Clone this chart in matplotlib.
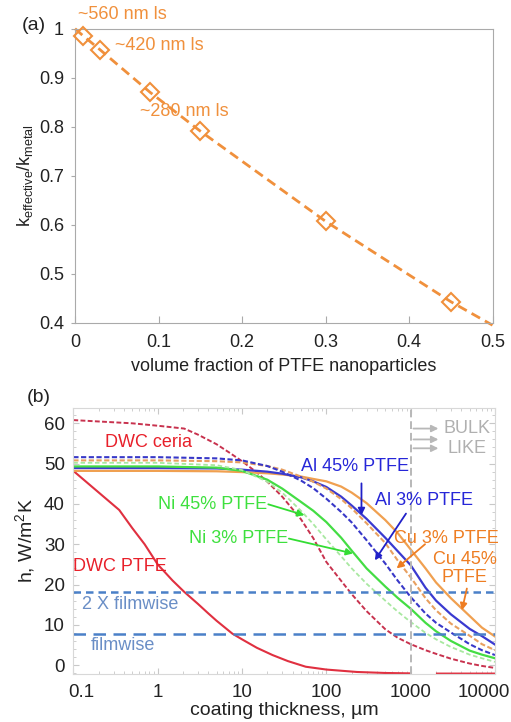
import numpy as np
import matplotlib.pyplot as plt
from matplotlib.ticker import MultipleLocator, FixedLocator, NullFormatter
from matplotlib.transforms import ScaledTranslation

plt.rcParams['font.family'] = ['Liberation Sans', 'DejaVu Sans']
plt.rcParams['mathtext.default'] = 'regular'

# (a) effective conductivity vs PTFE volume fraction
frac = [0.01, 0.03, 0.09, 0.15, 0.30, 0.45]
k_ratio = [0.985, 0.957, 0.870, 0.791, 0.607, 0.443]
fit_x = [0.0, 0.01, 0.03, 0.09, 0.15, 0.30, 0.45, 0.50]
fit_y = [1.0, 0.985, 0.957, 0.870, 0.791, 0.607, 0.443, 0.395]

# (b) heat transfer coefficient vs coating thickness (um)
t = [0.1, 1, 5, 10, 20, 30, 50, 70, 100, 150, 200, 300, 500, 700,
     1000, 1500, 2000, 3000, 5000, 7000, 10000]
cu45_h = [48.2, 48.2, 48.1, 47.9, 47.6, 47.3, 46.8, 46.2, 45.6, 44.3, 42.8, 40.2, 36.0, 32.8,
          28.7, 24.0, 20.5, 16.6, 12.2, 9.3, 7.1]
al45_h = [48.9, 48.9, 48.8, 48.5, 48.0, 47.5, 46.6, 45.6, 44.2, 41.8, 39.6, 36.3, 31.6, 28.3,
          24.8, 19.2, 16.0, 12.6, 9.0, 7.2, 5.1]
cu3_h = [50.8, 50.8, 50.6, 50.3, 49.4, 48.5, 46.8, 45.5, 43.8, 41.2, 38.9, 35.2, 30.3, 26.0,
         21.8, 16.6, 13.6, 10.3, 7.3, 5.2, 3.7]
al3_h = [51.6, 51.6, 51.3, 50.8, 49.4, 48.0, 45.8, 43.9, 41.3, 38.0, 35.4, 31.0, 25.2, 21.0,
         16.9, 12.8, 10.5, 8.1, 5.2, 3.7, 2.5]
ni3_h = [49.3, 49.3, 49.0, 48.2, 46.0, 43.8, 40.5, 38.3, 35.5, 31.6, 28.4, 24.0, 19.5, 16.7,
         14.0, 10.5, 8.4, 6.0, 3.6, 2.6, 1.7]
ni45_h = [50.2, 50.2, 49.6, 48.4, 45.5, 42.8, 38.3, 35.0, 31.2, 27.0, 24.0, 20.2, 16.0, 13.3,
          10.7, 8.0, 6.4, 4.5, 2.6, 1.7, 0.8]

ceria_x = [0.1, 0.5, 1, 2.06, 3, 5, 7, 10, 15, 20, 30, 50, 70, 100, 150, 200, 300, 500, 700,
           1000, 1500, 2000, 3000, 5000, 7000, 10000]
ceria_h = [60.8, 60.0, 59.4, 58.7, 57.2, 54.8, 52.8, 50.6, 47.8, 45.5, 41.8, 36.2, 31.5, 25.6,
           20.9, 17.6, 13.4, 8.9, 6.8, 5.2, 3.7, 2.8, 1.6, 0.4, -0.2, -0.7]
ptfe_x = [0.1, 0.35, 0.5, 0.7, 1, 1.5, 2.06, 3, 4, 5, 7.7, 10, 15, 23, 35, 57, 100, 230, 500,
          1000, 1500, 2050, 10000]
ptfe_h = [48.2, 38.5, 34.0, 30.0, 25.0, 21.0, 18.2, 15.2, 12.8, 11.0, 7.8, 6.4, 4.3, 2.5, 1.0,
          -0.4, -1.1, -1.7, -1.95, -2.05, np.nan, -2.1, -2.1]

filmwise = 7.8
filmwise2x = 18.2
bulk_arrow_h = [58.7, 56.0, 53.8]

orange = '#f0903c'
red = '#e8202a'
blue_txt = '#2626d8'
green_txt = '#3ee03e'
film_c = '#4a80c8'
grey = '#b8b8b8'

fig = plt.figure(figsize=(5.11, 7.22), dpi=100)

# ---------------- panel (a)
ax1 = fig.add_axes([0.1468, 0.553, 0.817, 0.4073])
ax1.plot(fit_x, fit_y, '--', color=orange, lw=2, dashes=(3.5, 2), clip_on=False, zorder=2)
ax1.plot(frac, k_ratio, 'D', ms=9, mfc='none', mec=orange, mew=1.5, clip_on=False, zorder=3)
ax1.set_xlim(0, 0.5)
ax1.set_ylim(0.4, 1.0)
ax1.xaxis.set_major_locator(MultipleLocator(0.1))
ax1.yaxis.set_major_locator(MultipleLocator(0.1))
ax1.xaxis.set_major_formatter(lambda v, p: '%g' % round(v, 2))
ax1.yaxis.set_major_formatter(lambda v, p: '%g' % round(v, 2))
for s in ax1.spines.values():
    s.set_color('#aaaaaa')
ax1.tick_params(axis='x', direction='in', length=5, color='#aaaaaa', labelsize=13, pad=8, labelcolor='#222222')
ax1.tick_params(axis='y', direction='out', length=3, color='#aaaaaa', labelsize=13, pad=5, labelcolor='#222222')
ax1.set_xlabel('volume fraction of PTFE nanoparticles', fontsize=13, labelpad=5, color='#222222')
ax1.set_ylabel('k$_{effective}$/k$_{metal}$', fontsize=13, labelpad=3, color='#222222')
ax1.text(0.0036, 1.028, '~560 nm ls', color=orange, fontsize=13, ha='left', va='center')
ax1.text(0.048, 0.965, '~420 nm ls', color=orange, fontsize=13, ha='left', va='center')
ax1.text(0.078, 0.832, '~280 nm ls', color=orange, fontsize=13, ha='left', va='center')
fig.text(0.043, 0.965, '(a)', fontsize=14, ha='left', va='center', color='#222222')

# ---------------- panel (b)
ax2 = fig.add_axes([0.1435, 0.0665, 0.8252, 0.3684])
ax2.set_xscale('log')
ax2.plot(ceria_x, ceria_h, '--', color='#c8324e', lw=1.4, dashes=(2.5, 1.2))
ax2.plot(ptfe_x, ptfe_h, '-', color='#e03040', lw=1.5)
ax2.plot(t, cu45_h, '-', color='#f0a050', lw=1.6)
ax2.plot(t, al45_h, '-', color='#3a3ad0', lw=1.6)
ax2.plot(t, cu3_h, '--', color='#e8a060', lw=1.5, dashes=(2.5, 1.2))
ax2.plot(t, al3_h, '--', color='#3838c8', lw=1.5, dashes=(2.5, 1.2))
ax2.plot(t, ni3_h, '-', color='#44dd44', lw=1.6)
ax2.plot(t, ni45_h, '--', color='#a8e8a0', lw=1.3, dashes=(2.5, 1.5))
ax2.axhline(filmwise2x, color=film_c, lw=1.8, ls=(0, (3, 2)))
ax2.axhline(filmwise, color=film_c, lw=1.8, ls=(0, (5, 3)))
ax2.axvline(1000, color=grey, lw=1.4, ls=(0, (4, 2)))

for h in bulk_arrow_h:
    ax2.annotate('', xy=(2300, h), xytext=(1000, h),
                 arrowprops=dict(arrowstyle='-|>', color=grey, lw=1.3, mutation_scale=10))
ax2.text(4700, 58.7, 'BULK', color='#b0b0b0', fontsize=13, ha='center', va='center')
ax2.text(4700, 53.8, 'LIKE', color='#b0b0b0', fontsize=13, ha='center', va='center')

ax2.text(0.236, 55.3, 'DWC ceria', color=red, fontsize=13, ha='left', va='center')
ax2.text(0.1, 24.4, 'DWC PTFE', color=red, fontsize=13, ha='left', va='center')
ax2.text(0.125, 15.0, '2 X filmwise', color='#6a8ec6', fontsize=13, ha='left', va='center')
ax2.text(0.16, 4.8, 'filmwise', color='#6a8ec6', fontsize=13, ha='left', va='center')

ax2.text(965, 49.2, 'Al 45% PTFE', color=blue_txt, fontsize=13, ha='right', va='center')
ax2.text(1440, 40.8, 'Al 3% PTFE', color=blue_txt, fontsize=13, ha='center', va='center')
ax2.text(20, 39.9, 'Ni 45% PTFE', color=green_txt, fontsize=13, ha='right', va='center')
ax2.text(35, 31.4, 'Ni 3% PTFE', color=green_txt, fontsize=13, ha='right', va='center')
ax2.text(2630, 31.4, 'Cu 3% PTFE', color='#ee7d22', fontsize=13, ha='center', va='center')
ax2.text(4400, 23.9, 'Cu 45%\nPTFE', color='#ee7d22', fontsize=13, ha='center', va='center',
         linespacing=1.1)

arrows = [
    ((55, 37.2), (20.5, 39.9), '#33dd33'),
    ((207, 27.7), (36, 31.4), '#33dd33'),
    ((261, 37.2), (261, 45.1), '#2020c8'),
    ((376, 26.0), (880, 37.6), '#2020c8'),
    ((681, 24.0), (1480, 30.0), '#ee7d22'),
    ((4050, 13.6), (4640, 19.0), '#ee7d22'),
]
for tip, tail, c in arrows:
    ax2.annotate('', xy=tip, xytext=tail,
                 arrowprops=dict(arrowstyle='-|>', color=c, lw=1.3, mutation_scale=10,
                                 shrinkA=0, shrinkB=0))

ax2.set_xlim(0.1, 10000)
ax2.set_ylim(-2.2, 63.8)
ax2.xaxis.set_major_locator(FixedLocator([0.1, 1, 10, 100, 1000, 10000]))
ax2.xaxis.set_major_formatter(lambda v, p: '%g' % v)
ax2.xaxis.set_minor_formatter(NullFormatter())
ax2.yaxis.set_major_locator(MultipleLocator(10))
ax2.yaxis.set_minor_locator(MultipleLocator(2))
for s in ax2.spines.values():
    s.set_color('#d8d8d8')
ax2.tick_params(which='both', direction='in', color='#c8c8c8', top=True, right=True)
ax2.tick_params(which='major', length=4, labelsize=13.5, labelcolor='#222222')
ax2.tick_params(which='minor', length=2)
ax2.tick_params(axis='x', pad=7)
ax2.tick_params(axis='y', pad=6)
ax2.set_xlabel('coating thickness, µm', fontsize=14, labelpad=1, color='#222222')
ax2.set_ylabel('h, W/m$^2$K', fontsize=14, labelpad=5, color='#222222')
fig.text(0.053, 0.45, '(b)', fontsize=14, ha='left', va='center', color='#222222')

# shift the end tick labels inwards like the original
ticks = ax2.xaxis.get_major_ticks()
lab0 = ticks[0].label1
lab0.set_transform(lab0.get_transform() + ScaledTranslation(0.08, 0, fig.dpi_scale_trans))
labN = ticks[-1].label1
labN.set_transform(labN.get_transform() + ScaledTranslation(-0.11, 0, fig.dpi_scale_trans))

fig.savefig('out.png', dpi=100)
